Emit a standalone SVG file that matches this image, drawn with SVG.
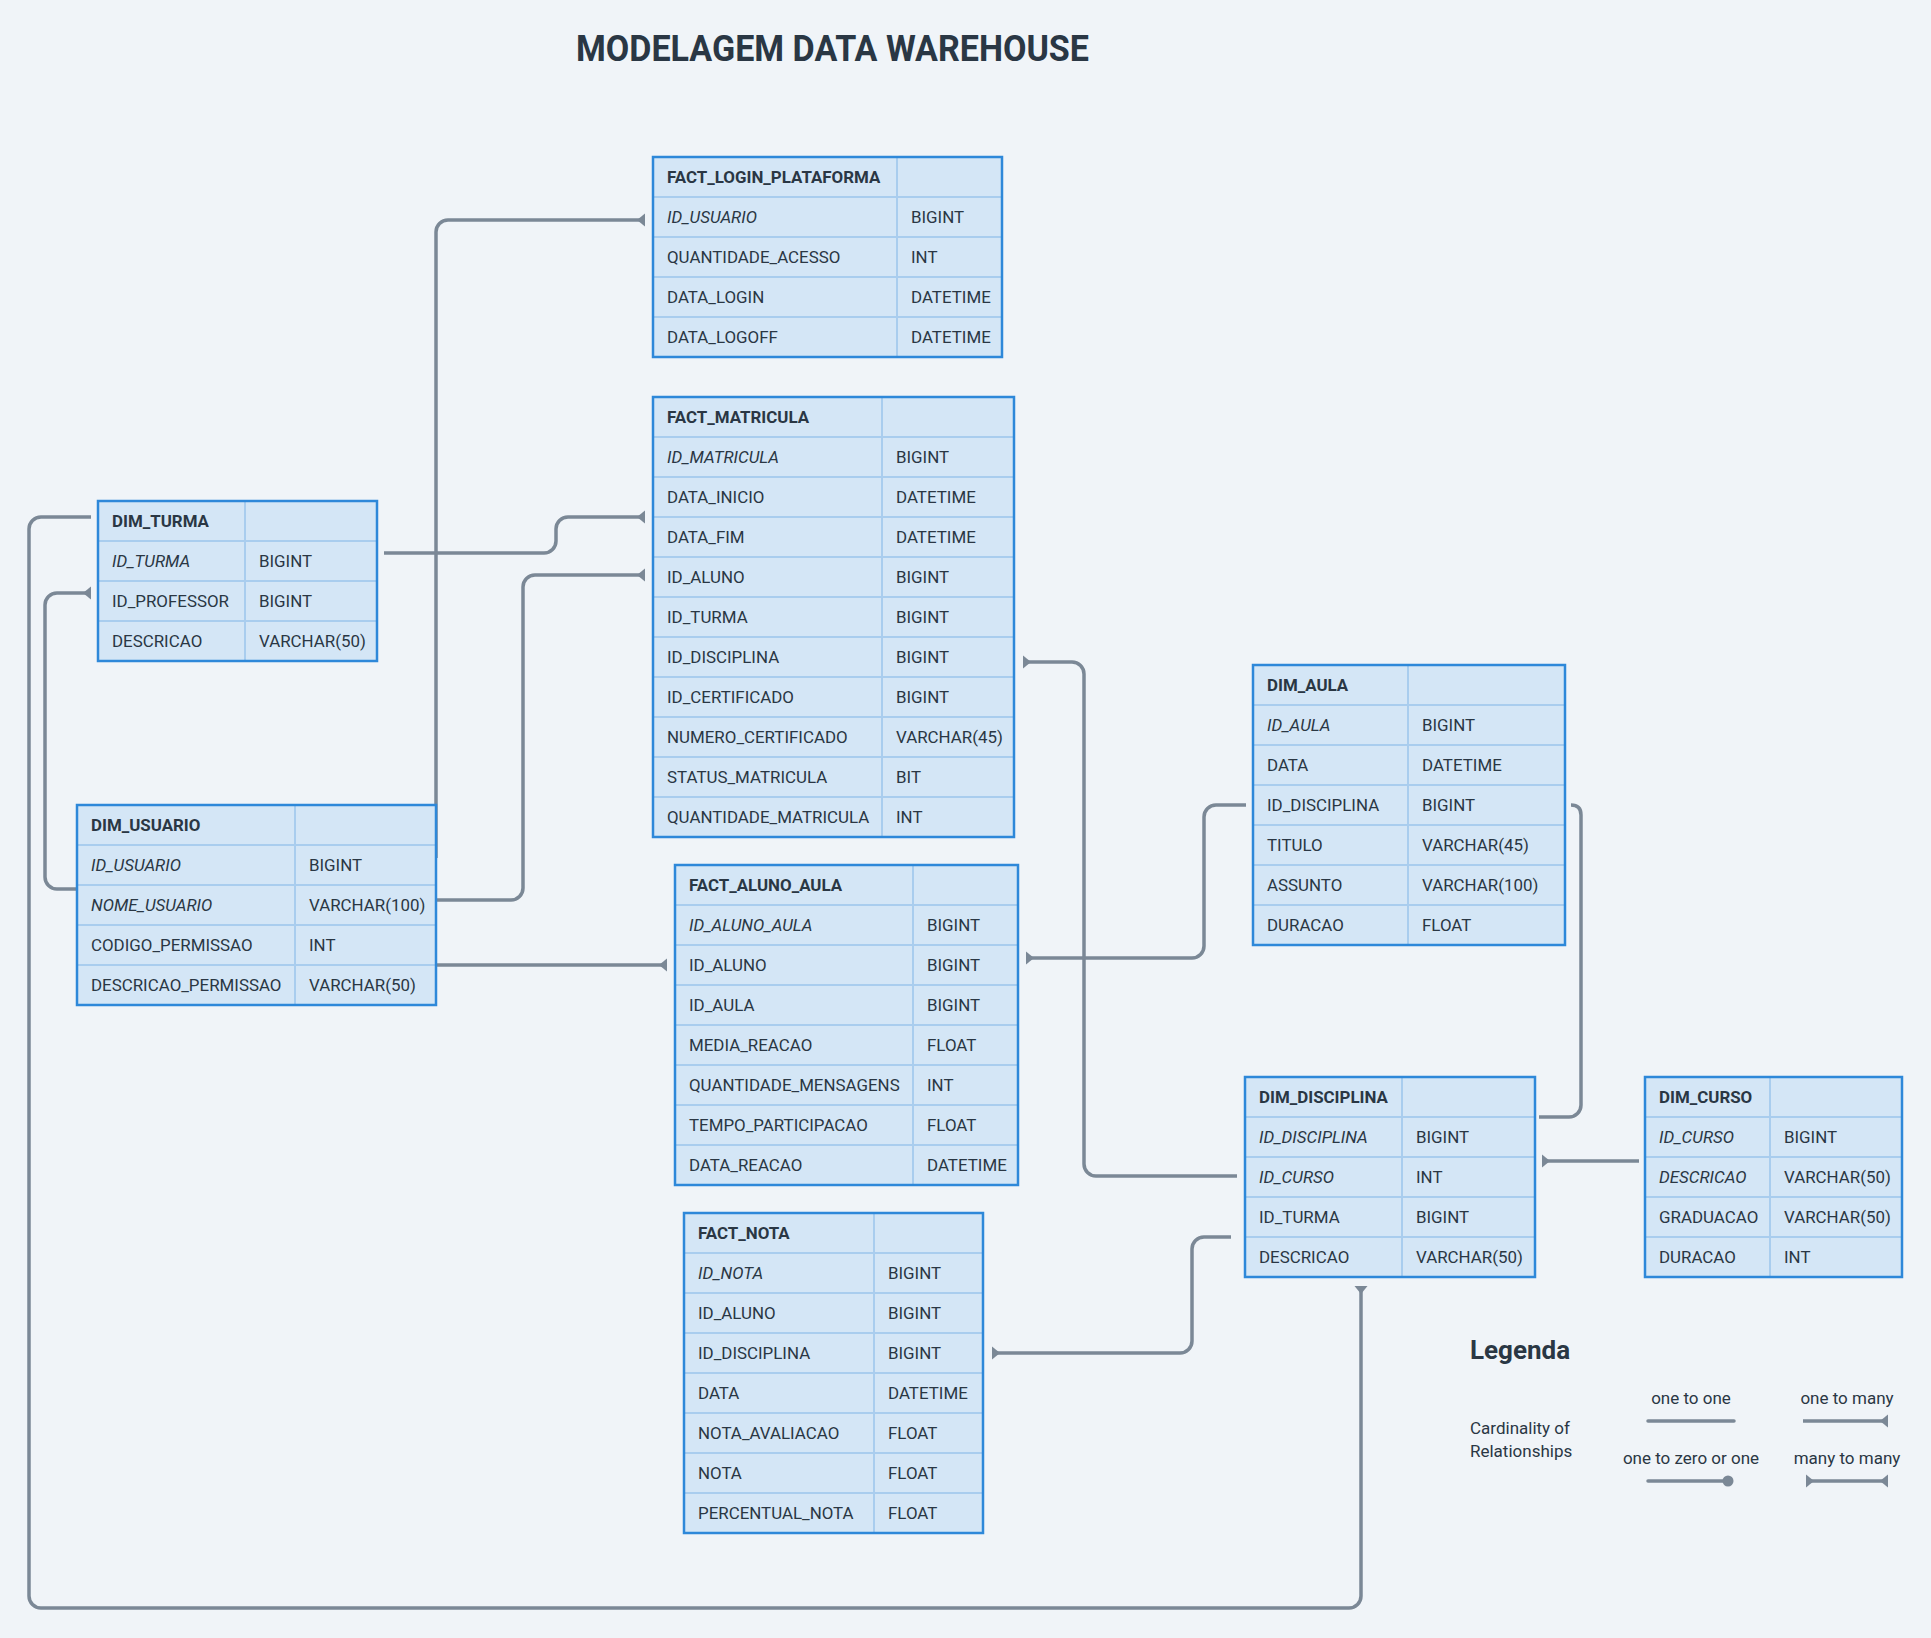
<svg xmlns="http://www.w3.org/2000/svg" width="1931" height="1638" viewBox="0 0 1931 1638">
<style>
.bg{fill:#d4e6f6}
.sep{stroke:#a9cdee;stroke-width:2}
.bd{fill:none;stroke:#2e88d9;stroke-width:2.5}
.t{font-family:Roboto,'Liberation Sans',sans-serif;font-size:16.9px;fill:#2a3744}
.h{font-weight:bold}
.i{font-style:italic}
.c{fill:none;stroke:#7b8896;stroke-width:3.5}
.lg{font-family:Roboto,'Liberation Sans',sans-serif;fill:#2a3744}
</style>
<defs>
<marker id="many" markerUnits="userSpaceOnUse" viewBox="-10 -10 20 20" markerWidth="20" markerHeight="20" refX="0" refY="0" orient="auto">
<polygon points="0,-6.5 0,6.5 -8,0" fill="#7b8896"/>
</marker>
<marker id="manyS" markerUnits="userSpaceOnUse" viewBox="-10 -10 20 20" markerWidth="20" markerHeight="20" refX="0" refY="0" orient="auto-start-reverse">
<polygon points="0,-6.5 0,6.5 -8,0" fill="#7b8896"/>
</marker>
</defs>
<rect width="1931" height="1638" fill="#f0f4f8"/>
<text x="576" y="61" class="lg" font-size="36" font-weight="bold" textLength="513" lengthAdjust="spacingAndGlyphs">MODELAGEM DATA WAREHOUSE</text>

<g id="connectors">
<path class="c" d="M436,858 V232 A12,12 0 0 1 448,220 H645" marker-end="url(#many)"/>
<path class="c" d="M384,553 H544 A12,12 0 0 0 556,541 V529 A12,12 0 0 1 568,517 H645" marker-end="url(#many)"/>
<path class="c" d="M436,900 H511 A12,12 0 0 0 523,888 V587 A12,12 0 0 1 535,575 H645" marker-end="url(#many)"/>
<path class="c" d="M436,965 H667" marker-end="url(#many)"/>
<path class="c" d="M91,517 H41 A12,12 0 0 0 29,529 V1596 A12,12 0 0 0 41,1608 H1349 A12,12 0 0 0 1361,1596 V1286" marker-end="url(#many)"/>
<path class="c" d="M77,889 H57 A12,12 0 0 1 45,877 V605 A12,12 0 0 1 57,593 H91" marker-end="url(#many)"/>
<path class="c" d="M1237,1176 H1096 A12,12 0 0 1 1084,1164 V674 A12,12 0 0 0 1072,662 H1023" marker-end="url(#many)"/>
<path class="c" d="M1246,805 H1216 A12,12 0 0 0 1204,817 V946 A12,12 0 0 1 1192,958 H1026" marker-end="url(#many)"/>
<path class="c" d="M1571,805 Q1581,805 1581,815 V1105 A12,12 0 0 1 1569,1117 H1539"/>
<path class="c" d="M1639,1161 H1542" marker-end="url(#many)"/>
<path class="c" d="M1231,1237 H1204 A12,12 0 0 0 1192,1249 V1341 A12,12 0 0 1 1180,1353 H992" marker-end="url(#many)"/>
</g>

<g id="FACT_LOGIN_PLATAFORMA">
<rect class="bg" x="653" y="157" width="349" height="200"/>
<path class="sep" d="M653,197H1002M653,237H1002M653,277H1002M653,317H1002M897,157V357"/>
<rect class="bd" x="653" y="157" width="349" height="200"/>
<text class="t h" x="667" y="183">FACT_LOGIN_PLATAFORMA</text>
<text class="t i" x="667" y="223">ID_USUARIO</text><text class="t" x="911" y="223">BIGINT</text>
<text class="t" x="667" y="263">QUANTIDADE_ACESSO</text><text class="t" x="911" y="263">INT</text>
<text class="t" x="667" y="303">DATA_LOGIN</text><text class="t" x="911" y="303">DATETIME</text>
<text class="t" x="667" y="343">DATA_LOGOFF</text><text class="t" x="911" y="343">DATETIME</text>
</g>

<g id="FACT_MATRICULA">
<rect class="bg" x="653" y="397" width="361" height="440"/>
<path class="sep" d="M653,437H1014M653,477H1014M653,517H1014M653,557H1014M653,597H1014M653,637H1014M653,677H1014M653,717H1014M653,757H1014M653,797H1014M882,397V837"/>
<rect class="bd" x="653" y="397" width="361" height="440"/>
<text class="t h" x="667" y="423">FACT_MATRICULA</text>
<text class="t i" x="667" y="463">ID_MATRICULA</text><text class="t" x="896" y="463">BIGINT</text>
<text class="t" x="667" y="503">DATA_INICIO</text><text class="t" x="896" y="503">DATETIME</text>
<text class="t" x="667" y="543">DATA_FIM</text><text class="t" x="896" y="543">DATETIME</text>
<text class="t" x="667" y="583">ID_ALUNO</text><text class="t" x="896" y="583">BIGINT</text>
<text class="t" x="667" y="623">ID_TURMA</text><text class="t" x="896" y="623">BIGINT</text>
<text class="t" x="667" y="663">ID_DISCIPLINA</text><text class="t" x="896" y="663">BIGINT</text>
<text class="t" x="667" y="703">ID_CERTIFICADO</text><text class="t" x="896" y="703">BIGINT</text>
<text class="t" x="667" y="743">NUMERO_CERTIFICADO</text><text class="t" x="896" y="743">VARCHAR(45)</text>
<text class="t" x="667" y="783">STATUS_MATRICULA</text><text class="t" x="896" y="783">BIT</text>
<text class="t" x="667" y="823">QUANTIDADE_MATRICULA</text><text class="t" x="896" y="823">INT</text>
</g>

<g id="DIM_TURMA">
<rect class="bg" x="98" y="501" width="279" height="160"/>
<path class="sep" d="M98,541H377M98,581H377M98,621H377M245,501V661"/>
<rect class="bd" x="98" y="501" width="279" height="160"/>
<text class="t h" x="112" y="527">DIM_TURMA</text>
<text class="t i" x="112" y="567">ID_TURMA</text><text class="t" x="259" y="567">BIGINT</text>
<text class="t" x="112" y="607">ID_PROFESSOR</text><text class="t" x="259" y="607">BIGINT</text>
<text class="t" x="112" y="647">DESCRICAO</text><text class="t" x="259" y="647">VARCHAR(50)</text>
</g>

<g id="DIM_USUARIO">
<rect class="bg" x="77" y="805" width="359" height="200"/>
<path class="sep" d="M77,845H436M77,885H436M77,925H436M77,965H436M295,805V1005"/>
<rect class="bd" x="77" y="805" width="359" height="200"/>
<text class="t h" x="91" y="831">DIM_USUARIO</text>
<text class="t i" x="91" y="871">ID_USUARIO</text><text class="t" x="309" y="871">BIGINT</text>
<text class="t i" x="91" y="911">NOME_USUARIO</text><text class="t" x="309" y="911">VARCHAR(100)</text>
<text class="t" x="91" y="951">CODIGO_PERMISSAO</text><text class="t" x="309" y="951">INT</text>
<text class="t" x="91" y="991">DESCRICAO_PERMISSAO</text><text class="t" x="309" y="991">VARCHAR(50)</text>
</g>

<g id="FACT_ALUNO_AULA">
<rect class="bg" x="675" y="865" width="343" height="320"/>
<path class="sep" d="M675,905H1018M675,945H1018M675,985H1018M675,1025H1018M675,1065H1018M675,1105H1018M675,1145H1018M913,865V1185"/>
<rect class="bd" x="675" y="865" width="343" height="320"/>
<text class="t h" x="689" y="891">FACT_ALUNO_AULA</text>
<text class="t i" x="689" y="931">ID_ALUNO_AULA</text><text class="t" x="927" y="931">BIGINT</text>
<text class="t" x="689" y="971">ID_ALUNO</text><text class="t" x="927" y="971">BIGINT</text>
<text class="t" x="689" y="1011">ID_AULA</text><text class="t" x="927" y="1011">BIGINT</text>
<text class="t" x="689" y="1051">MEDIA_REACAO</text><text class="t" x="927" y="1051">FLOAT</text>
<text class="t" x="689" y="1091">QUANTIDADE_MENSAGENS</text><text class="t" x="927" y="1091">INT</text>
<text class="t" x="689" y="1131">TEMPO_PARTICIPACAO</text><text class="t" x="927" y="1131">FLOAT</text>
<text class="t" x="689" y="1171">DATA_REACAO</text><text class="t" x="927" y="1171">DATETIME</text>
</g>

<g id="DIM_AULA">
<rect class="bg" x="1253" y="665" width="312" height="280"/>
<path class="sep" d="M1253,705H1565M1253,745H1565M1253,785H1565M1253,825H1565M1253,865H1565M1253,905H1565M1408,665V945"/>
<rect class="bd" x="1253" y="665" width="312" height="280"/>
<text class="t h" x="1267" y="691">DIM_AULA</text>
<text class="t i" x="1267" y="731">ID_AULA</text><text class="t" x="1422" y="731">BIGINT</text>
<text class="t" x="1267" y="771">DATA</text><text class="t" x="1422" y="771">DATETIME</text>
<text class="t" x="1267" y="811">ID_DISCIPLINA</text><text class="t" x="1422" y="811">BIGINT</text>
<text class="t" x="1267" y="851">TITULO</text><text class="t" x="1422" y="851">VARCHAR(45)</text>
<text class="t" x="1267" y="891">ASSUNTO</text><text class="t" x="1422" y="891">VARCHAR(100)</text>
<text class="t" x="1267" y="931">DURACAO</text><text class="t" x="1422" y="931">FLOAT</text>
</g>

<g id="DIM_DISCIPLINA">
<rect class="bg" x="1245" y="1077" width="290" height="200"/>
<path class="sep" d="M1245,1117H1535M1245,1157H1535M1245,1197H1535M1245,1237H1535M1402,1077V1277"/>
<rect class="bd" x="1245" y="1077" width="290" height="200"/>
<text class="t h" x="1259" y="1103">DIM_DISCIPLINA</text>
<text class="t i" x="1259" y="1143">ID_DISCIPLINA</text><text class="t" x="1416" y="1143">BIGINT</text>
<text class="t i" x="1259" y="1183">ID_CURSO</text><text class="t" x="1416" y="1183">INT</text>
<text class="t" x="1259" y="1223">ID_TURMA</text><text class="t" x="1416" y="1223">BIGINT</text>
<text class="t" x="1259" y="1263">DESCRICAO</text><text class="t" x="1416" y="1263">VARCHAR(50)</text>
</g>

<g id="DIM_CURSO">
<rect class="bg" x="1645" y="1077" width="257" height="200"/>
<path class="sep" d="M1645,1117H1902M1645,1157H1902M1645,1197H1902M1645,1237H1902M1770,1077V1277"/>
<rect class="bd" x="1645" y="1077" width="257" height="200"/>
<text class="t h" x="1659" y="1103">DIM_CURSO</text>
<text class="t i" x="1659" y="1143">ID_CURSO</text><text class="t" x="1784" y="1143">BIGINT</text>
<text class="t i" x="1659" y="1183">DESCRICAO</text><text class="t" x="1784" y="1183">VARCHAR(50)</text>
<text class="t" x="1659" y="1223">GRADUACAO</text><text class="t" x="1784" y="1223">VARCHAR(50)</text>
<text class="t" x="1659" y="1263">DURACAO</text><text class="t" x="1784" y="1263">INT</text>
</g>

<g id="FACT_NOTA">
<rect class="bg" x="684" y="1213" width="299" height="320"/>
<path class="sep" d="M684,1253H983M684,1293H983M684,1333H983M684,1373H983M684,1413H983M684,1453H983M684,1493H983M874,1213V1533"/>
<rect class="bd" x="684" y="1213" width="299" height="320"/>
<text class="t h" x="698" y="1239">FACT_NOTA</text>
<text class="t i" x="698" y="1279">ID_NOTA</text><text class="t" x="888" y="1279">BIGINT</text>
<text class="t" x="698" y="1319">ID_ALUNO</text><text class="t" x="888" y="1319">BIGINT</text>
<text class="t" x="698" y="1359">ID_DISCIPLINA</text><text class="t" x="888" y="1359">BIGINT</text>
<text class="t" x="698" y="1399">DATA</text><text class="t" x="888" y="1399">DATETIME</text>
<text class="t" x="698" y="1439">NOTA_AVALIACAO</text><text class="t" x="888" y="1439">FLOAT</text>
<text class="t" x="698" y="1479">NOTA</text><text class="t" x="888" y="1479">FLOAT</text>
<text class="t" x="698" y="1519">PERCENTUAL_NOTA</text><text class="t" x="888" y="1519">FLOAT</text>
</g>

<g id="legend">
<text class="lg" x="1470" y="1359" font-size="26" font-weight="bold">Legenda</text>
<text class="lg" x="1470" y="1434" font-size="17">Cardinality of</text>
<text class="lg" x="1470" y="1457" font-size="17">Relationships</text>
<text class="lg" x="1691" y="1404" font-size="17" text-anchor="middle">one to one</text>
<text class="lg" x="1847" y="1404" font-size="17" text-anchor="middle">one to many</text>
<text class="lg" x="1691" y="1464" font-size="17" text-anchor="middle">one to zero or one</text>
<text class="lg" x="1847" y="1464" font-size="17" text-anchor="middle">many to many</text>
<path class="c" stroke-linecap="round" d="M1648,1421 H1734"/>
<path class="c" d="M1803,1421 H1888" marker-end="url(#many)"/>
<path class="c" stroke-linecap="round" d="M1648,1481 H1726"/>
<circle cx="1728" cy="1481" r="5.5" fill="#7b8896"/>
<path class="c" d="M1806,1481 H1888" marker-start="url(#manyS)" marker-end="url(#many)"/>
</g>
</svg>
